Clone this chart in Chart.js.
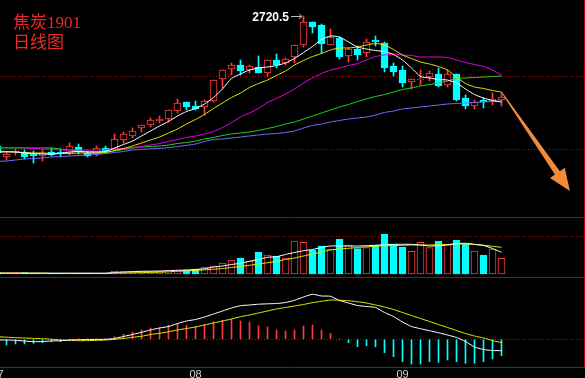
<!DOCTYPE html>
<html>
<head>
<meta charset="utf-8">
<script src="https://cdn.jsdelivr.net/npm/chart.js@4.4.1/dist/chart.umd.min.js"></script>
<style>
  html, body { margin: 0; padding: 0; background: #000; }
  #wrap { position: relative; width: 585px; height: 378px; overflow: hidden; }
  #title {
    position: absolute; left: 13px; top: 13px;
    color: #ec2828; font-size: 17px; line-height: 20px;
    font-family: "Liberation Serif", "Noto Sans CJK SC", serif;
  }
</style>
</head>
<body>
<div id="wrap">
  <canvas id="chart" width="585" height="378"></canvas>
  <div id="title">焦炭1901<br>日线图</div>
</div>
<script>
// first candle sits just off the left edge
const firstDay = -1;

const opens = [2070, 2015, 2040, 2040, 2030, 2020, 2040, 2040, 2035, 2065, 2035, 2030, 2060,
  2055, 2100, 2120, 2160, 2175, 2195, 2205, 2245, 2290, 2270,
  2265, 2295, 2405, 2455, 2475, 2450, 2465, 2435, 2500, 2485,
  2515, 2575, 2690, 2675, 2575, 2610, 2520, 2555, 2535, 2600,
  2585, 2470, 2450, 2390, 2400, 2415, 2430, 2375, 2430, 2310,
  2270, 2300, 2295, 2300];
const highs = [2085, 2035, 2055, 2050, 2045, 2050, 2060, 2055, 2085, 2080, 2045, 2070, 2070,
  2130, 2140, 2160, 2175, 2210, 2220, 2250, 2305, 2290, 2295,
  2300, 2400, 2450, 2485, 2500, 2475, 2520, 2500, 2530, 2510,
  2575, 2720.5, 2690, 2680, 2655, 2615, 2560, 2570, 2605, 2620,
  2590, 2485, 2470, 2405, 2450, 2445, 2460, 2450, 2430, 2325,
  2300, 2310, 2335, 2335];
const lows = [2015, 2000, 2025, 2005, 1985, 1995, 2020, 2015, 2025, 2030, 2015, 2020, 2040,
  2050, 2085, 2110, 2140, 2165, 2185, 2190, 2235, 2250, 2250,
  2225, 2290, 2360, 2425, 2425, 2435, 2435, 2420, 2460, 2475,
  2485, 2565, 2635, 2535, 2575, 2505, 2490, 2500, 2515, 2570,
  2440, 2420, 2365, 2355, 2375, 2395, 2365, 2365, 2295, 2255,
  2255, 2260, 2275, 2270];
const closes = [2035, 2030, 2045, 2015, 2020, 2035, 2025, 2035, 2070, 2040, 2020, 2060, 2045,
  2105, 2130, 2145, 2175, 2200, 2205, 2250, 2285, 2265, 2255,
  2295, 2400, 2450, 2475, 2445, 2470, 2435, 2500, 2475, 2505,
  2575, 2690, 2665, 2580, 2615, 2515, 2555, 2525, 2590, 2590,
  2460, 2440, 2385, 2405, 2405, 2435, 2370, 2430, 2300, 2270,
  2290, 2290, 2305, 2315];

const ma5 = [2040, 2040, 2040, 2035, 2032.5, 2030, 2030, 2032.5, 2040, 2042.5, 2040, 2040, 2042.5,
  2060, 2077.5, 2095, 2120, 2145, 2170, 2192.5, 2220, 2242.5, 2257.5,
  2280, 2312.5, 2355, 2407.5, 2430, 2450, 2460, 2465, 2472.5, 2485,
  2507.5, 2537.5, 2567.5, 2602.5, 2620, 2615, 2590, 2565, 2555, 2547.5,
  2542.5, 2527.5, 2500, 2460, 2417.5, 2410, 2402.5, 2400, 2385, 2355,
  2327.5, 2310, 2297.5, 2290];
const ma10 = [2045, 2042.5, 2040, 2037.5, 2035, 2035, 2032.5, 2032.5, 2032.5, 2035, 2035, 2035, 2037.5,
  2047.5, 2057.5, 2070, 2085, 2100, 2115, 2135, 2155, 2180, 2202.5,
  2227.5, 2257.5, 2285, 2312.5, 2335, 2362.5, 2382.5, 2400, 2422.5, 2445,
  2475, 2497.5, 2517.5, 2532.5, 2550, 2560, 2560, 2565, 2575, 2582.5,
  2575, 2552.5, 2525, 2507.5, 2490, 2480, 2467.5, 2450, 2415, 2382.5,
  2365, 2357.5, 2347.5, 2340];
const ma20 = [2062.5, 2062.5, 2062.5, 2060, 2057.5, 2055, 2052.5, 2050, 2050, 2050, 2050, 2050, 2052.5,
  2055, 2057.5, 2062.5, 2067.5, 2075, 2082.5, 2092.5, 2102.5, 2112.5, 2120,
  2130, 2142.5, 2162.5, 2187.5, 2215, 2235, 2257.5, 2287.5, 2307.5, 2330,
  2355, 2385, 2410, 2432.5, 2450, 2460, 2472.5, 2482.5, 2500, 2517.5,
  2525, 2530, 2525, 2522.5, 2515, 2515, 2515, 2512.5, 2500, 2487.5,
  2477.5, 2467.5, 2450, 2425];
const ma40 = [2060, 2060, 2060, 2060, 2060, 2060, 2060, 2055, 2050, 2045, 2042.5, 2040, 2040,
  2045, 2052.5, 2060, 2065, 2067.5, 2070, 2075, 2082.5, 2087.5, 2095,
  2105, 2112.5, 2122.5, 2130, 2135, 2140, 2147.5, 2157.5, 2167.5, 2180,
  2190, 2205, 2220, 2235, 2250, 2265, 2277.5, 2292.5, 2305, 2317.5,
  2327.5, 2340, 2352.5, 2360, 2370, 2377.5, 2385, 2395, 2407.5, 2410,
  2412.5, 2415, 2417.5, 2420];
const ma60 = [1992.5, 1995, 2000, 2005, 2007.5, 2010, 2015, 2017.5, 2020, 2022.5, 2025, 2027.5, 2032.5,
  2037.5, 2042.5, 2050, 2053, 2056, 2058, 2062, 2067, 2073, 2080,
  2092.5, 2102.5, 2105, 2110, 2115, 2120, 2125, 2130, 2132.5, 2137.5,
  2145, 2160, 2172.5, 2180, 2190, 2197.5, 2205, 2210, 2215, 2225,
  2237.5, 2245, 2255, 2260, 2265, 2270, 2275, 2280, 2282.5, 2285,
  2287.5, 2290, 2292.5, 2295];

const volumes = [13000, 13000, 13000, 13000, 10000, 10000, 9000, 9000, 10000, 9000, 8000, 9000, 8000,
  30000, 23000, 30000, 30000, 30000, 27000, 40000, 40000, 40000, 50000,
  70000, 80000, 110000, 140000, 160000, 130000, 220000, 190000, 180000, 160000,
  330000, 317000, 240000, 280000, 247000, 350000, 287000, 253000, 263000, 290000,
  400000, 297000, 270000, 227000, 317000, 263000, 330000, 293000, 340000, 297000,
  230000, 190000, 250000, 157000];
const volMa5 = [8000, 8000, 8000, 8000, 8000, 8000, 8000, 8000, 8000, 8000, 8000, 8000, 8000,
  15000, 20000, 23000, 27000, 28000, 30000, 33000, 37000, 40000, 45000,
  53000, 70000, 80000, 95000, 107000, 127000, 145000, 167000, 173000, 195000,
  215000, 233000, 245000, 265000, 280000, 280000, 280000, 280000, 283000, 287000,
  293000, 297000, 297000, 297000, 290000, 280000, 283000, 290000, 303000, 307000,
  297000, 285000, 255000, 217000];
const volMa10 = [10000, 9000, 9000, 9000, 9000, 9000, 6000, 6000, 6000, 6000, 6000, 6000, 6000,
  8000, 10000, 12000, 14000, 16000, 18000, 22000, 27000, 31000, 36000,
  42000, 48000, 55000, 65000, 75000, 87000, 100000, 113000, 125000, 145000,
  160000, 180000, 200000, 220000, 240000, 250000, 257000, 265000, 272000, 278000,
  282000, 284000, 287000, 290000, 290000, 290000, 293000, 296000, 300000, 300000,
  295000, 288000, 277000, 267000];

const macdHist = [-12, -11.4, -9.4, -9.4, -8, -6.8, -4.8, -4.8, -0.6, 0.6, 0.6, 0.6, 0.8,
  5.2, 10, 14.6, 18.6, 22.6, 23.2, 28, 30.6, 28.6, 25.2,
  30, 35.2, 38, 40.6, 36.6, 34.6, 27.2, 24.6, 18.6, 16.6,
  18.6, 26.6, 28.6, 18.6, 12, 0.6, -6.8, -14.8, -12.8, -14.8,
  -26.8, -34.8, -44.8, -49.4, -49.4, -44.8, -46, -41.4, -44.8, -48,
  -48, -44.8, -39.4, -32.8];
const dif = [-1.4, -1.4, -2, -3.4, -4.8, -4.4, -3.4, -2.8, -1.4, -0.8, -0.4, -0.2, 0,
  1.6, 5.6, 9.6, 14, 18.6, 22.6, 25.6, 31.6, 36.6, 39.6,
  44.6, 50.6, 56.6, 62.6, 67.2, 68.6, 70.2, 71, 71.6, 73.6,
  78, 84.6, 90, 86.6, 86, 77.6, 72.6, 67.6, 65.6, 63.6,
  53.6, 45.6, 34.6, 25.6, 21.2, 17.2, 13.2, 8.6, 3.6, -4.4,
  -15.4, -20.4, -22.4, -22.8];
const dea = [5.2, 4.2, 3.2, 2.6, 1.8, 1.2, 0.2, -1.4, -2, -2.8, -2.6, -2.2, -1.4,
  0, 1.6, 4, 6, 9.6, 12, 15, 18.6, 21.6, 24.6,
  28.6, 32.6, 36.6, 40.6, 45.2, 48.6, 52.6, 56.6, 60.6, 63.6,
  66.6, 69.6, 73.2, 76, 78.6, 78.2, 77.2, 75.2, 72.6, 68.6,
  64.6, 59.6, 53.6, 47.6, 41.6, 35.6, 29.6, 23.6, 17.6, 11.6,
  6.6, 2.6, -2.4, -6.8];

const tickDays = [-1, 21, 44];
const tickLabels = ['07', '08', '09'];
const priceLevels = [2420, 2050];
const volLevels = [370000];
const macdLevels = [0];

// hand-drawn forecast arrow, in (day, price)
const arrowFrom = [55, 2340];
const arrowTo = [62.6, 1845];

const RED = '#ff3c3c';
const CYAN = '#00ffff';
const FRAME = '#b80000';
const DOT = '#c00000';

const isUp = k => closes[k] >= opens[k];
const pts = arr => arr.map((v, k) => ({ x: k + firstDay, y: v }));

const lineDs = (arr, color, axis) => ({
  type: 'line', data: pts(arr), yAxisID: axis,
  borderColor: color, borderWidth: 1, pointRadius: 0, tension: 0.2, order: 1,
});

const hiddenY = (weight, min, max, levels) => ({
  type: 'linear', position: 'right', stack: 'panels', stackWeight: weight,
  min, max,
  afterBuildTicks: s => { s.ticks = levels.map(v => ({ value: v })); },
  afterFit: s => { s.width = 0; s.paddingTop = 0; s.paddingBottom = 0; },
  grid: { color: DOT, drawTicks: false },
  border: { display: false, dash: [1, 2] },
  ticks: { display: false },
});

const frame = {
  id: 'frame',
  afterDatasetsDraw(chart) {
    const { ctx, chartArea, scales } = chart;
    const px = scales.x, py = scales.yPrice;
    ctx.save();

    // panel borders
    ctx.strokeStyle = FRAME;
    ctx.lineWidth = 1;
    ctx.beginPath();
    [scales.yVol.top, scales.yMacd.top, chartArea.bottom].forEach(y => {
      const yy = Math.round(y) + 0.5;
      ctx.moveTo(0, yy);
      ctx.lineTo(chartArea.right, yy);
    });
    ctx.moveTo(chartArea.right - 0.5, 0);
    ctx.lineTo(chartArea.right - 0.5, chartArea.bottom + 1);
    ctx.stroke();

    // high marker
    const top = highs.indexOf(Math.max(...highs));
    const hx = Math.round(px.getPixelForValue(top + firstDay));
    const hy = Math.round(py.getPixelForValue(highs[top])) + 0.5;
    ctx.font = 'bold 12px "Liberation Sans", Arial, sans-serif';
    ctx.textAlign = 'right';
    ctx.textBaseline = 'middle';
    ctx.fillStyle = '#ffffff';
    ctx.fillText(String(highs[top]), hx - 14, hy + 1);
    ctx.strokeStyle = '#b8b8b8';
    ctx.beginPath();
    ctx.moveTo(hx - 12, hy); ctx.lineTo(hx - 1, hy);
    ctx.moveTo(hx - 4, hy - 2.5); ctx.lineTo(hx - 1, hy); ctx.lineTo(hx - 4, hy + 2.5);
    ctx.stroke();

    // orange arrow
    const x0 = px.getPixelForValue(arrowFrom[0]), y0 = py.getPixelForValue(arrowFrom[1]);
    const x1 = px.getPixelForValue(arrowTo[0]), y1 = py.getPixelForValue(arrowTo[1]);
    const len = Math.hypot(x1 - x0, y1 - y0);
    const dx = (x1 - x0) / len, dy = (y1 - y0) / len;
    const nx = -dy, ny = dx;
    const headLen = 22, headW = 9, tailW = 0.5, neckW = 3;
    const bx = x1 - dx * headLen, by = y1 - dy * headLen;
    ctx.fillStyle = '#f28a3c';
    ctx.beginPath();
    ctx.moveTo(x0 + nx * tailW, y0 + ny * tailW);
    ctx.lineTo(bx + nx * neckW, by + ny * neckW);
    ctx.lineTo(bx + nx * headW, by + ny * headW);
    ctx.lineTo(x1, y1);
    ctx.lineTo(bx - nx * headW, by - ny * headW);
    ctx.lineTo(bx - nx * neckW, by - ny * neckW);
    ctx.lineTo(x0 - nx * tailW, y0 - ny * tailW);
    ctx.closePath();
    ctx.fill();
    ctx.restore();
  },
};

new Chart(document.getElementById('chart'), {
  type: 'bar',
  data: {
    datasets: [
      lineDs(ma5, '#ffffff', 'yPrice'),
      lineDs(ma10, '#e8e800', 'yPrice'),
      lineDs(ma20, '#ee00ee', 'yPrice'),
      lineDs(ma40, '#22d822', 'yPrice'),
      lineDs(ma60, '#7070ff', 'yPrice'),
      {
        type: 'bar', grouped: false, yAxisID: 'yPrice', order: 5,
        data: opens.map((o, k) => ({ x: k + firstDay, y: [o, closes[k]] })),
        backgroundColor: c => isUp(c.dataIndex) ? '#000000' : CYAN,
        borderColor: c => isUp(c.dataIndex) ? RED : CYAN,
        borderWidth: 1, borderSkipped: false, barThickness: 7,
      },
      {
        type: 'bar', grouped: false, yAxisID: 'yPrice', order: 6,
        data: lows.map((l, k) => ({ x: k + firstDay, y: [l, highs[k]] })),
        backgroundColor: c => isUp(c.dataIndex) ? RED : CYAN,
        borderWidth: 0, barThickness: 1,
      },
      lineDs(volMa5, '#ffffff', 'yVol'),
      lineDs(volMa10, '#e8e800', 'yVol'),
      {
        type: 'bar', grouped: false, yAxisID: 'yVol', order: 5,
        data: pts(volumes),
        backgroundColor: c => isUp(c.dataIndex) ? '#000000' : CYAN,
        borderColor: c => isUp(c.dataIndex) ? RED : CYAN,
        borderWidth: 1, borderSkipped: false, barThickness: 7,
      },
      lineDs(dif, '#ffffff', 'yMacd'),
      lineDs(dea, '#e8e800', 'yMacd'),
      {
        type: 'bar', grouped: false, yAxisID: 'yMacd', order: 5,
        data: pts(macdHist),
        backgroundColor: c => macdHist[c.dataIndex] >= 0 ? RED : CYAN,
        borderWidth: 0, barThickness: 1,
      },
    ],
  },
  options: {
    responsive: false,
    animation: false,
    devicePixelRatio: 1,
    layout: { padding: 0 },
    plugins: { legend: { display: false }, tooltip: { enabled: false } },
    scales: {
      x: {
        type: 'linear', offset: false,
        min: -6.5 / 9, max: 578.5 / 9,
        afterBuildTicks: s => { s.ticks = tickDays.map(v => ({ value: v })); },
        afterFit: s => { s.height = 11; s.paddingLeft = 0; s.paddingRight = 0; },
        grid: { display: false, drawTicks: false },
        border: { display: false },
        ticks: {
          autoSkip: false, maxRotation: 0, padding: 1, color: '#d6d6d6',
          font: { family: '"Liberation Sans", Arial, sans-serif', size: 11 },
          callback: (v, i) => tickLabels[i],
        },
      },
      yPrice: hiddenY(217, 1715, 2800, priceLevels),
      yVol: hiddenY(60, -30000, 570000, volLevels),
      yMacd: hiddenY(90, -55.4, 124.6, macdLevels),
    },
  },
  plugins: [frame],
});
</script>
</body>
</html>
